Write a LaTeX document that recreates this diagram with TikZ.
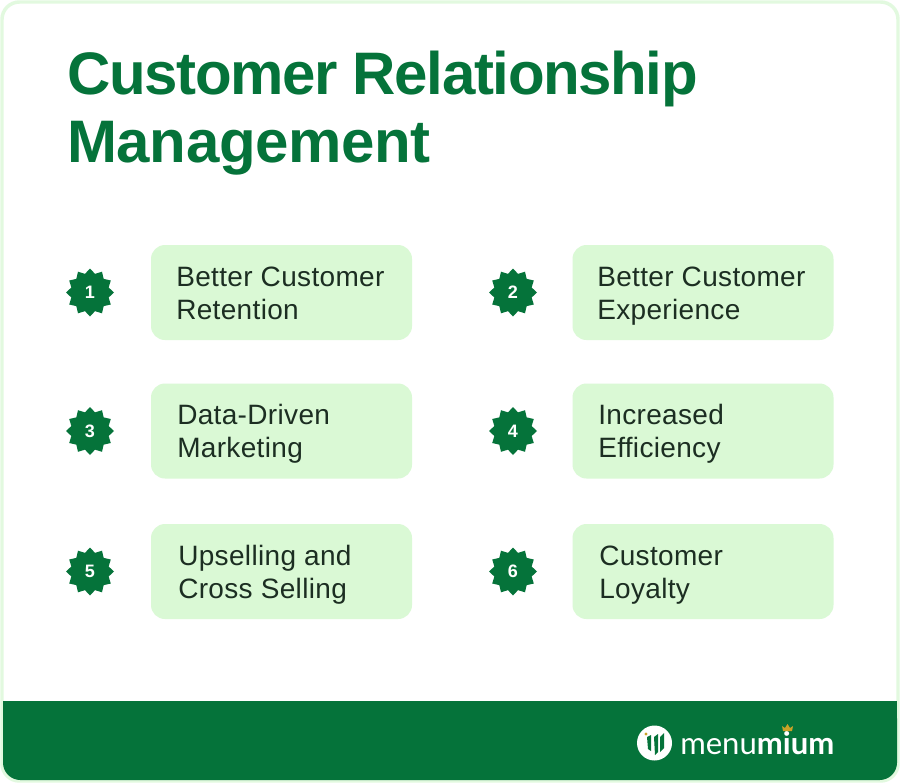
\documentclass[tikz,border=0pt]{standalone}
\usepackage{fontspec}
\setmainfont{Liberation Sans}
\newfontfamily\logofont{Lato}
\newfontfamily\bodyfont[LetterSpace=1.2]{Liberation Sans}
\newfontfamily\titlefont[LetterSpace=-2.3]{Liberation Sans Bold}
\newfontfamily\titlefontb[LetterSpace=-0.7]{Liberation Sans Bold}
\definecolor{brandgreen}{HTML}{05733A}
\definecolor{boxgreen}{HTML}{DAF9D5}
\definecolor{edgegreen}{HTML}{E2F9DF}
\definecolor{inktext}{HTML}{1C2E22}
\definecolor{crowngold}{HTML}{C9A227}
\tikzset{
  x=0.75pt,y=-0.75pt,
  itembox/.style={fill=boxgreen,rounded corners=10.5pt,minimum width=195.75pt,minimum height=71.25pt,inner sep=0pt},
  itemtext/.style={anchor=west,align=left,text=inktext,inner sep=0pt,font=\bodyfont\fontsize{21}{24.8}\selectfont},
  numtext/.style={text=white,inner sep=0pt,font=\fontsize{13.5}{14}\selectfont\bfseries},
  titletext/.style={anchor=north west,align=left,text=brandgreen,inner sep=0pt,font=\titlefont\fontsize{45}{51}\selectfont},
}
\newcommand{\twolines}[2]{\strut #1\\\strut #2}
\newcommand{\badge}[3]{%
  \fill[brandgreen] plot[samples at={0,1,...,23},smooth cycle,tension=0] ({#1+(mod(\x,2)==0?24:19.3)*sin(\x*15)},{#2-(mod(\x,2)==0?24:19.3)*cos(\x*15)}) -- cycle;
  \node[numtext] (n#3) at (#1,#2) {#3};
}
\begin{document}
\begin{tikzpicture}
\useasboundingbox (0,0) rectangle (900,783);
\fill[white] (0,0) rectangle (900,783);
\draw[edgegreen,line width=2.6pt,fill=white,rounded corners=13pt] (2,2) rectangle (898,781);
\fill[brandgreen,rounded corners=13pt] (3,701) -- (897,701) -- (897,780) -- (3,780) -- cycle;
\fill[brandgreen] (3,701) rectangle (897,730);
\node[titletext] (title) at (67,51) {Customer Relationship\\[0pt]{\titlefontb\fontsize{45}{51}\selectfont Management}};

\node[itembox] (b1) at (281.5,292.5) {};
\node[itembox] (b2) at (703,292.5) {};
\node[itembox] (b3) at (281.5,431) {};
\node[itembox] (b4) at (703,431) {};
\node[itembox] (b5) at (281.5,571.5) {};
\node[itembox] (b6) at (703,571.5) {};

\node[itemtext] (t1) at (176,296.5) {\twolines{Better Customer}{Retention}};
\node[itemtext] (t2) at (597,296.5) {\twolines{Better Customer}{Experience}};
\node[itemtext] (t3) at (177,434.5) {\twolines{Data-Driven}{Marketing}};
\node[itemtext] (t4) at (598,434.5) {\twolines{Increased}{Efficiency}};
\node[itemtext] (t5) at (178,575.5) {\twolines{Upselling and}{Cross Selling}};
\node[itemtext] (t6) at (599,575.5) {\twolines{Customer}{Loyalty}};

\badge{90}{292.5}{1}
\badge{513}{292.5}{2}
\badge{90}{431}{3}
\badge{513}{431}{4}
\badge{90}{571.5}{5}
\badge{513}{571.5}{6}

% logo
\fill[white] (654.5,743) circle[radius=17.5];
\fill[brandgreen] (647,737) -- (651,735) -- (651,751) -- (648,749) -- cycle;
\fill[brandgreen] (654,737) -- (658,734) -- (658,752) -- (655,755) -- cycle;
\fill[brandgreen] (660,737) -- (664,733) -- (664,748) -- (660,752) -- cycle;
\fill[crowngold] (646,734) circle[radius=1.6];
\node[anchor=west,inner sep=0pt,text=white,font=\logofont\fontsize{23.3}{28}\selectfont] (logo) at (680,743) {menu\textbf{mium}};
\fill[crowngold] (783,731) -- (782,726) -- (785,728) -- (787.5,724) -- (790,728) -- (793,726) -- (792,731) -- cycle;
\end{tikzpicture}
\end{document}
